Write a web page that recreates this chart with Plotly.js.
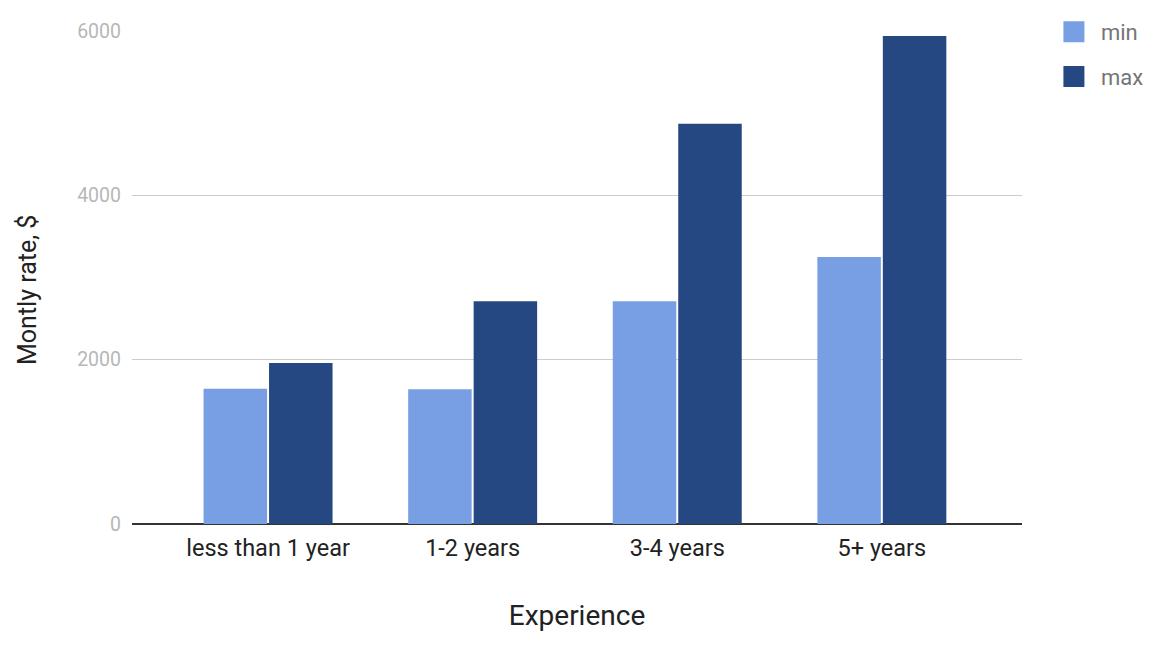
<!DOCTYPE html>
<html>
<head>
<meta charset="utf-8">
<script src="https://cdn.plot.ly/plotly-3.0.1.min.js"></script>
<style>
  html, body { margin: 0; padding: 0; background: #fff; }
  #chart { width: 1166px; height: 648px; }
</style>
</head>
<body>
<div id="chart"></div>
<script>
// Data for the chart
const categories = ['less than 1 year', '1-2 years', '3-4 years', '5+ years'];
const minRate = [1645, 1640, 2710, 3250];
const maxRate = [1960, 2710, 4870, 5940];
const seriesNames = ['min', 'max'];
const seriesColors = ['#789fe3', '#264882'];

var traceMin = {
  x: categories,
  y: minRate,
  name: seriesNames[0],
  type: 'bar',
  marker: { color: seriesColors[0] },
  showlegend: false,
  hoverinfo: 'y+name'
};

var traceMax = {
  x: categories,
  y: maxRate,
  name: seriesNames[1],
  type: 'bar',
  marker: { color: seriesColors[1] },
  showlegend: false,
  hoverinfo: 'y+name'
};

// legend only entries, so the swatches can be bigger than the bar default
var legendTraces = seriesNames.map(function (n, i) {
  return {
    x: [null],
    y: [null],
    name: n,
    type: 'scatter',
    mode: 'markers',
    legendgroup: n,
    marker: { symbol: 'square', size: 16, color: seriesColors[i], line: { color: seriesColors[i], width: 5 } }
  };
});

var data = [traceMin, traceMax].concat(legendTraces);

var layout = {
  width: 1166,
  height: 648,
  margin: { l: 132, r: 144, t: 31, b: 124, autoexpand: false },
  paper_bgcolor: 'white',
  plot_bgcolor: 'white',
  font: { family: 'Roboto, sans-serif', color: '#222' },
  barmode: 'group',
  bargap: 0.36,
  bargroupgap: 0.03,
  xaxis: {
    range: [-0.665, 3.685],
    showgrid: false,
    showline: false,
    ticks: '',
    ticklabelstandoff: 7,
    tickfont: { size: 23.5, color: '#222' },
    title: { text: 'Experience', font: { size: 28, color: '#222' }, standoff: 44 }
  },
  yaxis: {
    range: [0, 6000],
    tickvals: [0, 2000, 4000, 6000],
    showgrid: true,
    gridcolor: '#cccccc',
    gridwidth: 1.5,
    zeroline: true,
    zerolinecolor: '#333333',
    zerolinewidth: 2,
    ticks: '',
    ticklabelstandoff: 10,
    tickfont: { size: 19.5, color: '#b7b7b7' }
  },
  // y title sits a bit below the plot middle in the original, so it is an annotation
  annotations: [{
    text: 'Montly rate, $',
    xref: 'paper',
    yref: 'paper',
    x: -0.118,
    y: 0.4746,
    xanchor: 'center',
    yanchor: 'middle',
    textangle: -90,
    showarrow: false,
    font: { size: 25, color: '#222' }
  }],
  legend: {
    x: 1.028,
    xanchor: 'left',
    yref: 'container',
    y: 0.983,
    yanchor: 'top',
    traceorder: 'grouped',
    font: { size: 22, color: '#757575' },
    tracegroupgap: 13,
    itemwidth: 44
  },
  showlegend: true
};

// Plot the chart
Plotly.newPlot('chart', data, layout, { displayModeBar: false, staticPlot: true });
</script>
</body>
</html>
